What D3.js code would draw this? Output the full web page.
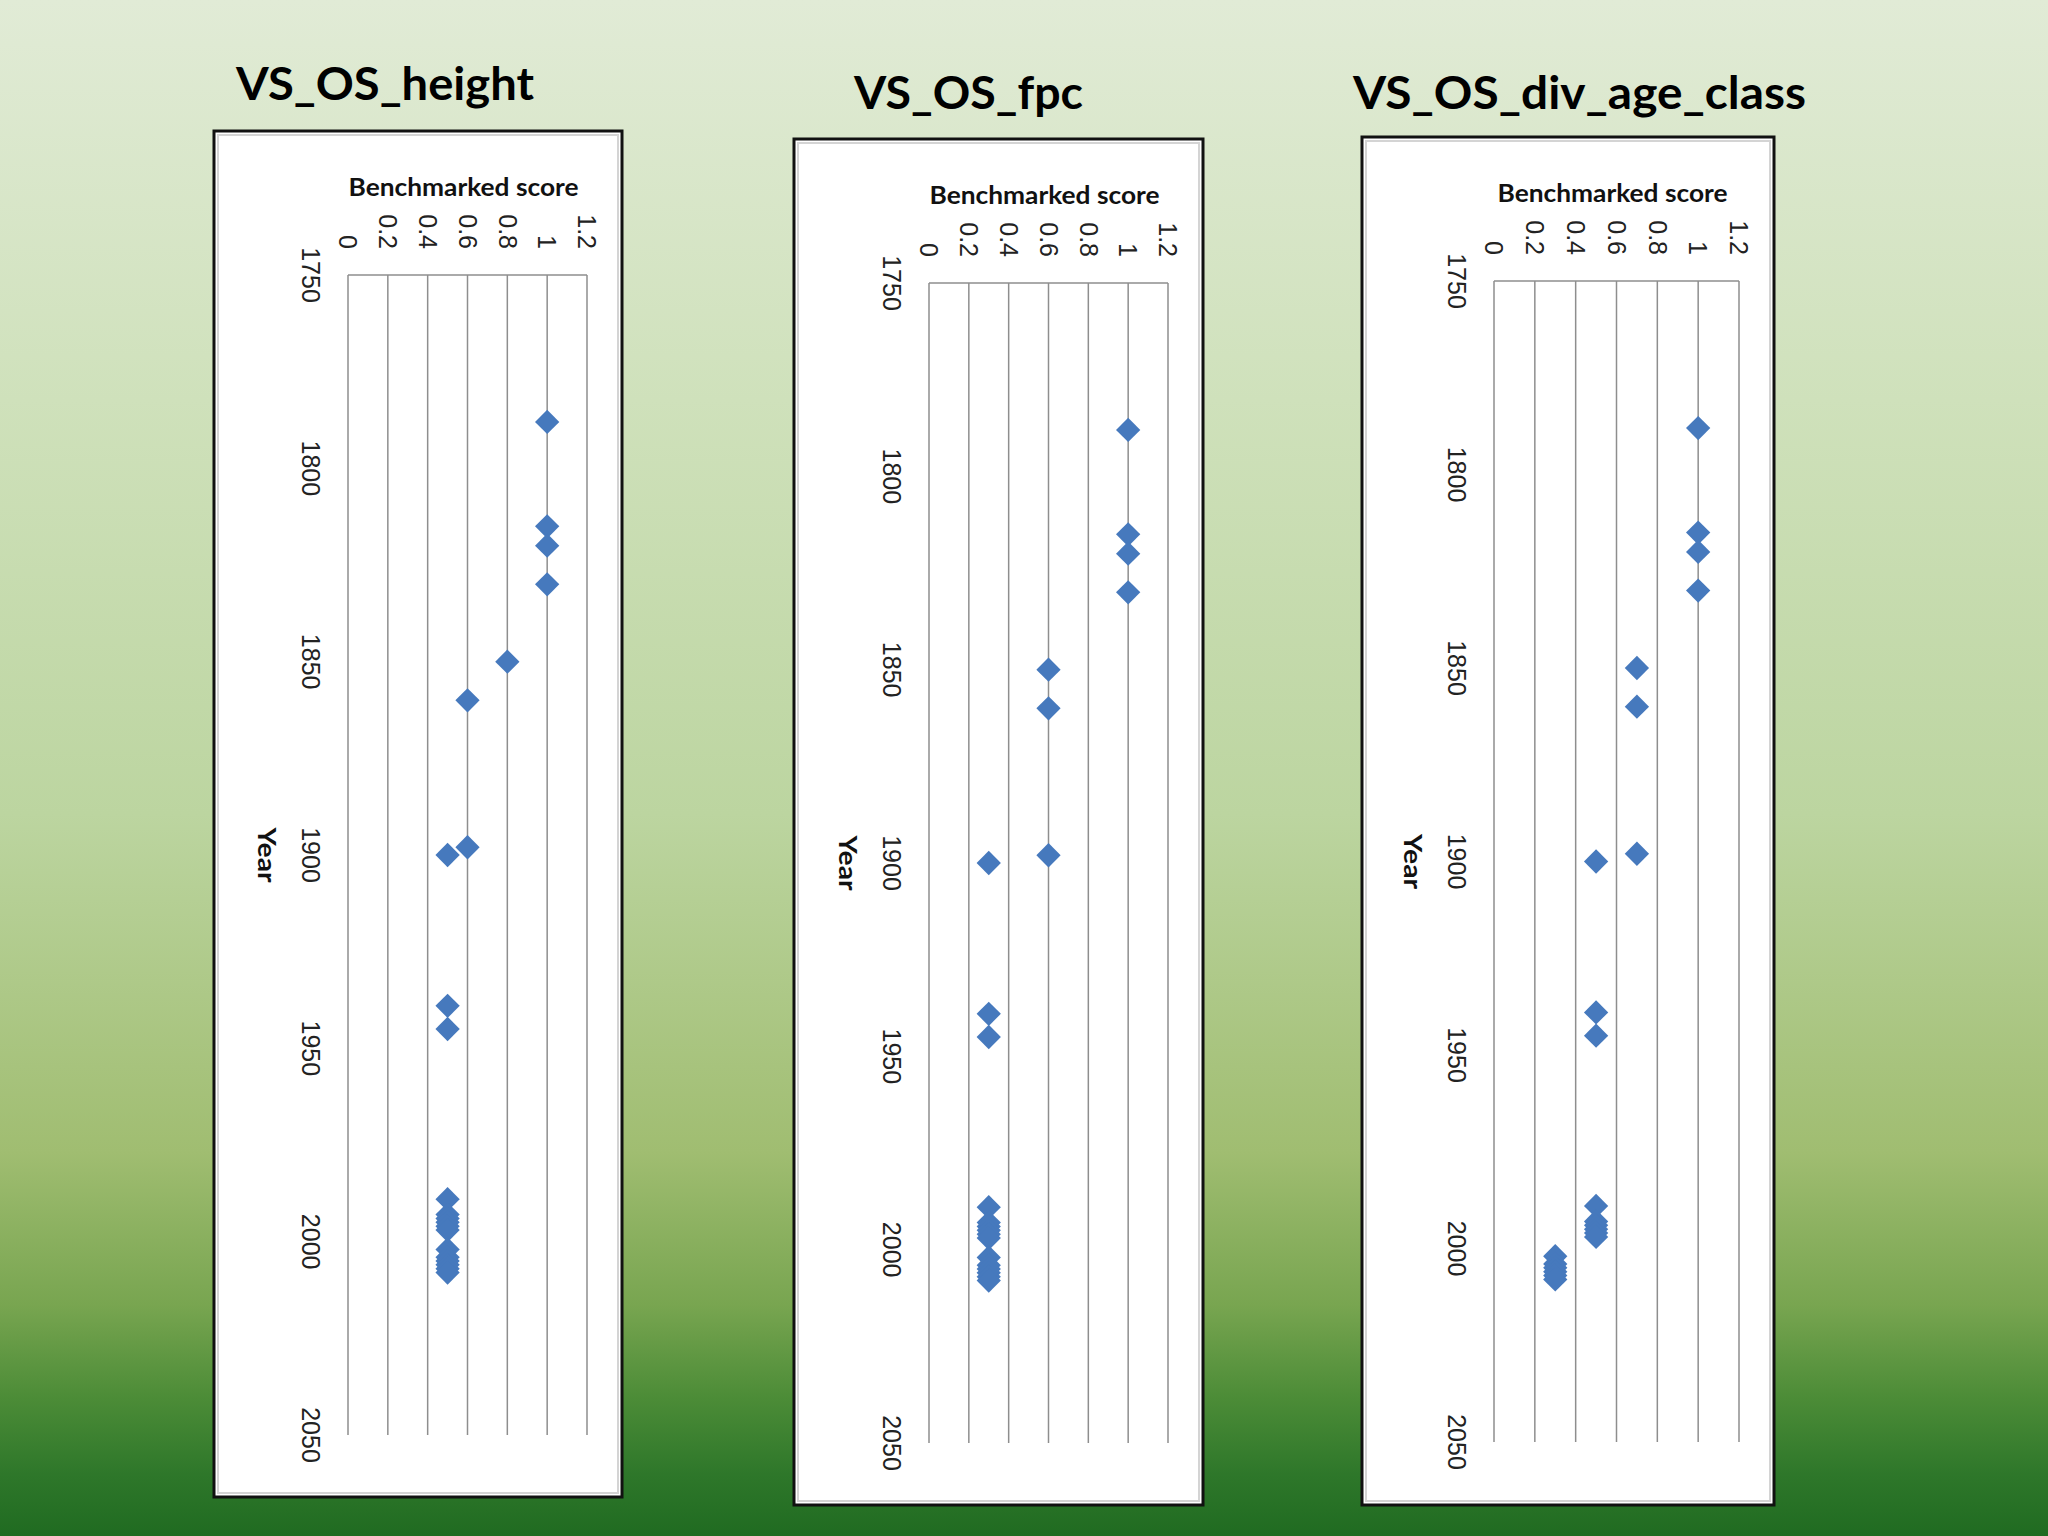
<!DOCTYPE html>
<html>
<head>
<meta charset="utf-8">
<script src="https://cdn.jsdelivr.net/npm/d3@7"></script>
<style>
  html, body { margin: 0; padding: 0; }
  body { width: 2048px; height: 1536px; overflow: hidden; }
</style>
</head>
<body>
<svg id="chart" width="2048" height="1536"></svg>
<script>
// ---------------- DATA ----------------
const panelTitles = ["VS_OS_height", "VS_OS_fpc", "VS_OS_div_age_class"];
const years = [1788, 1815, 1820, 1830, 1850, 1860, 1898, 1900, 1939, 1945,
               1989, 1993, 1994, 1995, 1996, 1997, 2002, 2004, 2005, 2006, 2007, 2008];
const heightScores = [1, 1, 1, 1, 0.8, 0.6, 0.6, 0.5, 0.5, 0.5,
                      0.5, 0.5, 0.5, 0.5, 0.5, 0.5, 0.5, 0.5, 0.5, 0.5, 0.5, 0.5];
const fpcScores = [1, 1, 1, 1, 0.6, 0.6, 0.6, 0.3, 0.3, 0.3,
                   0.3, 0.3, 0.3, 0.3, 0.3, 0.3, 0.3, 0.3, 0.3, 0.3, 0.3, 0.3];
const divAgeClassScores = [1, 1, 1, 1, 0.7, 0.7, 0.7, 0.5, 0.5, 0.5,
                           0.5, 0.5, 0.5, 0.5, 0.5, 0.5, 0.3, 0.3, 0.3, 0.3, 0.3, 0.3];
const scoreTicks = [0, 0.2, 0.4, 0.6, 0.8, 1, 1.2];
const yearTicks = [1750, 1800, 1850, 1900, 1950, 2000, 2050];
const scoreAxisTitle = "Benchmarked score";
const yearAxisTitle = "Year";

// ---------------- LAYOUT ----------------
const layouts = [
  { frame: [214, 131, 408, 1366], plot: [348, 587, 275, 1435], title: [236, 100, 298] },
  { frame: [794, 139, 409, 1366], plot: [929, 1168, 283, 1443], title: [854, 109, 229] },
  { frame: [1362, 137, 412, 1368], plot: [1494, 1739, 281, 1442], title: [1353, 109, 453] }
];
const seriesList = [heightScores, fpcScores, divAgeClassScores];

const svg = d3.select("#chart");

// background gradient
const defs = svg.append("defs");
const grad = defs.append("linearGradient").attr("id", "bg")
  .attr("x1", 0).attr("y1", 0).attr("x2", 0).attr("y2", 1);
[[0, "#e1ebd6"], [0.26, "#cfe1bb"], [0.53, "#bcd5a0"], [0.75, "#a0bd71"],
 [0.85, "#78a550"], [0.91, "#4c8c37"], [0.96, "#2e772a"], [1, "#206b21"]]
  .forEach(([o, c]) => grad.append("stop").attr("offset", o).attr("stop-color", c));
svg.append("rect").attr("width", 2048).attr("height", 1536).attr("fill", "url(#bg)");

const diamond = d3.symbol().type(d3.symbolSquare).size(295);

layouts.forEach((L, i) => {
  const g = svg.append("g");
  const [fx, fy, fw, fh] = L.frame;
  const [x0, x1, y0, y1] = L.plot;

  // title
  g.append("text")
    .attr("x", L.title[0]).attr("y", L.title[1])
    .attr("textLength", L.title[2]).attr("lengthAdjust", "spacingAndGlyphs")
    .attr("font-family", "Lato, 'Open Sans', sans-serif").attr("font-weight", 700)
    .attr("font-size", 46).attr("fill", "#000")
    .text(panelTitles[i]);

  // frame
  g.append("rect").attr("x", fx).attr("y", fy).attr("width", fw).attr("height", fh)
    .attr("fill", "#ffffff").attr("stroke", "#111").attr("stroke-width", 3);
  g.append("rect").attr("x", fx + 4).attr("y", fy + 4).attr("width", fw - 8).attr("height", fh - 8)
    .attr("fill", "none").attr("stroke", "#d4d4d4").attr("stroke-width", 2);

  const xScale = d3.scaleLinear().domain([0, 1.2]).range([x0, x1]);
  const yScale = d3.scaleLinear().domain([1750, 2050]).range([y0, y1]);

  // gridlines (vertical, one per score tick)
  g.selectAll(".grid").data(scoreTicks).join("line")
    .attr("x1", d => xScale(d)).attr("x2", d => xScale(d))
    .attr("y1", yScale(1750)).attr("y2", yScale(2050))
    .attr("stroke", "#8e8e8e").attr("stroke-width", 1.5);
  // top axis line
  g.append("line")
    .attr("x1", xScale(0)).attr("x2", xScale(1.2))
    .attr("y1", yScale(1750)).attr("y2", yScale(1750))
    .attr("stroke", "#8e8e8e").attr("stroke-width", 1.5);

  // score tick labels (rotated)
  g.selectAll(".sTick").data(scoreTicks).join("text")
    .attr("transform", d => `translate(${xScale(d)},${y0 - 26}) rotate(90)`)
    .attr("text-anchor", "end").attr("dy", "0.35em")
    .attr("font-family", "'Liberation Sans', Arial, sans-serif").attr("font-size", 25)
    .attr("fill", "#222")
    .text(d => d3.format("~g")(d));

  // year tick labels (rotated)
  g.selectAll(".yTick").data(yearTicks).join("text")
    .attr("transform", d => `translate(${x0 - 46},${yScale(d)}) rotate(90)`)
    .attr("text-anchor", "middle")
    .attr("font-family", "'Liberation Sans', Arial, sans-serif").attr("font-size", 25)
    .attr("fill", "#222")
    .text(d => d);

  // axis titles
  g.append("text")
    .attr("x", (x0 + x1) / 2 - 4).attr("y", y0 - 79)
    .attr("text-anchor", "middle")
    .attr("textLength", 230).attr("lengthAdjust", "spacingAndGlyphs")
    .attr("font-family", "Lato, 'Open Sans', sans-serif").attr("font-weight", 700)
    .attr("font-size", 24).attr("fill", "#111")
    .text(scoreAxisTitle);
  g.append("text")
    .attr("transform", `translate(${x0 - 90},${(y0 + y1) / 2}) rotate(90)`)
    .attr("text-anchor", "middle")
    .attr("textLength", 55).attr("lengthAdjust", "spacingAndGlyphs")
    .attr("font-family", "Lato, 'Open Sans', sans-serif").attr("font-weight", 700)
    .attr("font-size", 25).attr("fill", "#111")
    .text(yearAxisTitle);

  // points
  const pts = years.map((yr, k) => ({ year: yr, score: seriesList[i][k] }));
  g.selectAll(".pt").data(pts).join("path")
    .attr("d", diamond)
    .attr("transform", d => `translate(${xScale(d.score)},${yScale(d.year)}) rotate(45)`)
    .attr("fill", "#4679bd");
});
</script>
</body>
</html>
